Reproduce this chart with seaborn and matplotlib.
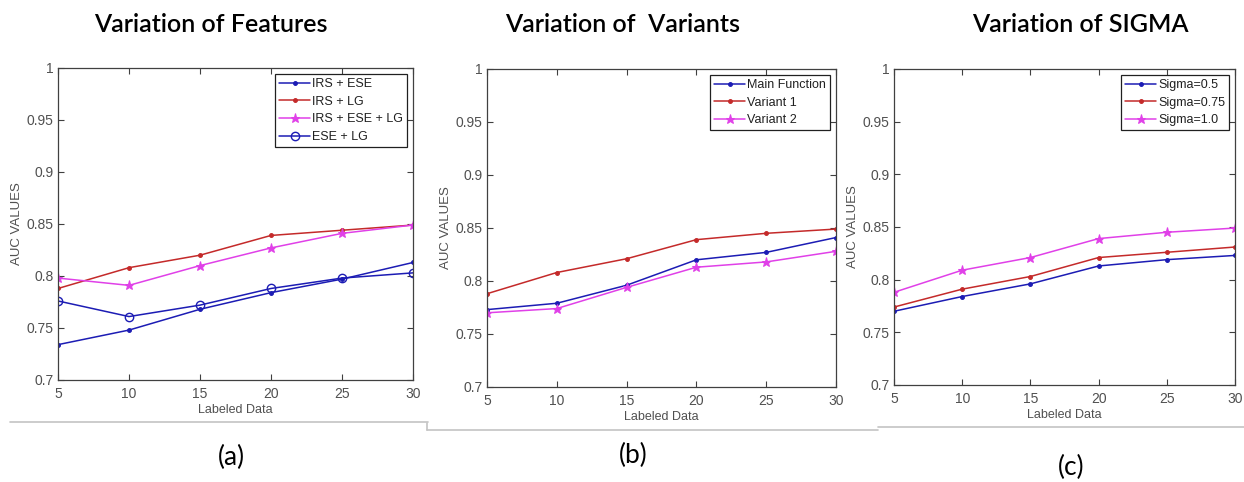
import matplotlib
matplotlib.use("Agg")
import matplotlib.pyplot as plt
from matplotlib.lines import Line2D
import seaborn as sns
import pandas as pd

labeled = [5, 10, 15, 20, 25, 30]

# (a) feature combinations
irs_ese = [0.734, 0.748, 0.768, 0.784, 0.797, 0.813]
irs_lg = [0.788, 0.808, 0.820, 0.839, 0.844, 0.849]
irs_ese_lg = [0.798, 0.791, 0.810, 0.827, 0.841, 0.849]
ese_lg = [0.776, 0.761, 0.772, 0.788, 0.798, 0.803]

# (b) objective variants
main_function = [0.773, 0.779, 0.796, 0.820, 0.827, 0.841]
variant_1 = [0.788, 0.808, 0.821, 0.839, 0.845, 0.849]
variant_2 = [0.770, 0.774, 0.794, 0.813, 0.818, 0.828]

# (c) kernel width
sigma_05 = [0.770, 0.784, 0.796, 0.813, 0.819, 0.823]
sigma_075 = [0.774, 0.791, 0.803, 0.821, 0.826, 0.831]
sigma_10 = [0.788, 0.809, 0.821, 0.839, 0.845, 0.849]

titles = ["Variation of Features", "Variation of  Variants", "Variation of SIGMA"]
captions = ["(a)", "(b)", "(c)"]

BLUE = "#1c1cb4"
RED = "#c42a2a"
MAGENTA = "#e040e8"

panels = [
    [("IRS + ESE", irs_ese, BLUE, "."),
     ("IRS + LG", irs_lg, RED, "."),
     ("IRS + ESE + LG", irs_ese_lg, MAGENTA, "*"),
     ("ESE + LG", ese_lg, BLUE, "o")],
    [("Main Function", main_function, BLUE, "."),
     ("Variant 1", variant_1, RED, "."),
     ("Variant 2", variant_2, MAGENTA, "*")],
    [("Sigma=0.5", sigma_05, BLUE, "."),
     ("Sigma=0.75", sigma_075, RED, "."),
     ("Sigma=1.0", sigma_10, MAGENTA, "*")],
]

sns.set_theme(style="ticks")
plt.rcParams["font.family"] = ["Liberation Sans", "DejaVu Sans"]

W, H = 1244, 482
fig = plt.figure(figsize=(W / 100, H / 100), dpi=100)
fig.patch.set_facecolor("white")

# axes boxes in pixels: left, top, right, bottom
boxes = [(58, 68, 413, 380), (487, 69, 836, 387), (894, 69, 1235, 385)]
title_pos = [(211, 25), (623, 25), (1080, 25)]
caption_pos = [(231, 457), (633, 455), (1071, 467)]

for i, (box, series) in enumerate(zip(boxes, panels)):
    l, t, r, b = box
    ax = fig.add_axes([l / W, 1 - b / H, (r - l) / W, (b - t) / H])
    for name, vals, col, mk in series:
        df = pd.DataFrame({"Labeled Data": labeled, "AUC": vals})
        kw = dict(marker=mk, color=col, linewidth=1.1, label=name)
        if mk == "o":
            kw.update(markersize=6, markerfacecolor="none", markeredgecolor=col, markeredgewidth=1.0)
        elif mk == "*":
            kw.update(markersize=6.5, markeredgecolor=col, markerfacecolor=col)
        else:
            kw.update(markersize=5.5, markeredgecolor=col, markerfacecolor=col)
        sns.lineplot(data=df, x="Labeled Data", y="AUC", ax=ax, **kw)
    ax.set_xlim(5, 30)
    ax.set_ylim(0.7, 1.0)
    ax.set_xticks(labeled)
    ax.set_xticklabels([str(v) for v in labeled])
    yt = [0.7, 0.75, 0.8, 0.85, 0.9, 0.95, 1.0]
    ax.set_yticks(yt)
    ax.set_yticklabels(["0.7", "0.75", "0.8", "0.85", "0.9", "0.95", "1"])
    ax.tick_params(direction="in", top=True, right=True, length=4, width=0.8,
                   labelsize=10, colors="#404040", labelcolor="#505050")
    ax.tick_params(axis="x", pad=5)
    ax.tick_params(axis="y", pad=3)
    for s in ax.spines.values():
        s.set_visible(True)
        s.set_color("#404040")
        s.set_linewidth(0.9)
    ax.set_xlabel("Labeled Data", fontsize=9, color="#505050", labelpad=2)
    ax.set_ylabel("AUC VALUES", fontsize=9.5, color="#505050", labelpad=3)
    leg = ax.legend(loc="upper right", fontsize=9, frameon=True, fancybox=False,
                    borderpad=0.3, labelspacing=0.45, handlelength=2.5,
                    handletextpad=0.15, borderaxespad=0.5, framealpha=1)
    leg.get_frame().set_edgecolor("#202020")
    leg.get_frame().set_linewidth(0.9)
    for txt in leg.get_texts():
        txt.set_color("#202020")

    tx, ty = title_pos[i]
    fig.text(tx / W, 1 - ty / H, titles[i], ha="center", va="center",
             fontsize=18, fontweight="semibold", family=["Lato", "DejaVu Sans"], color="black")
    cx, cy = caption_pos[i]
    fig.text(cx / W, 1 - cy / H, captions[i], ha="center", va="center",
             fontsize=19, family=["Lato", "DejaVu Sans"], color="black")

# light separator rules under each panel
GRAY = "#c4c4c4"
def rule(x0, y0, x1, y1):
    fig.add_artist(Line2D([x0 / W, x1 / W], [1 - y0 / H, 1 - y1 / H],
                          color=GRAY, linewidth=1.2, transform=fig.transFigure))

rule(10, 422, 428, 422)
rule(427, 423, 427, 430)
rule(427, 430, 878, 430)
rule(878, 427, 1244, 427)

fig.savefig("out.png", dpi=100, facecolor="white")
